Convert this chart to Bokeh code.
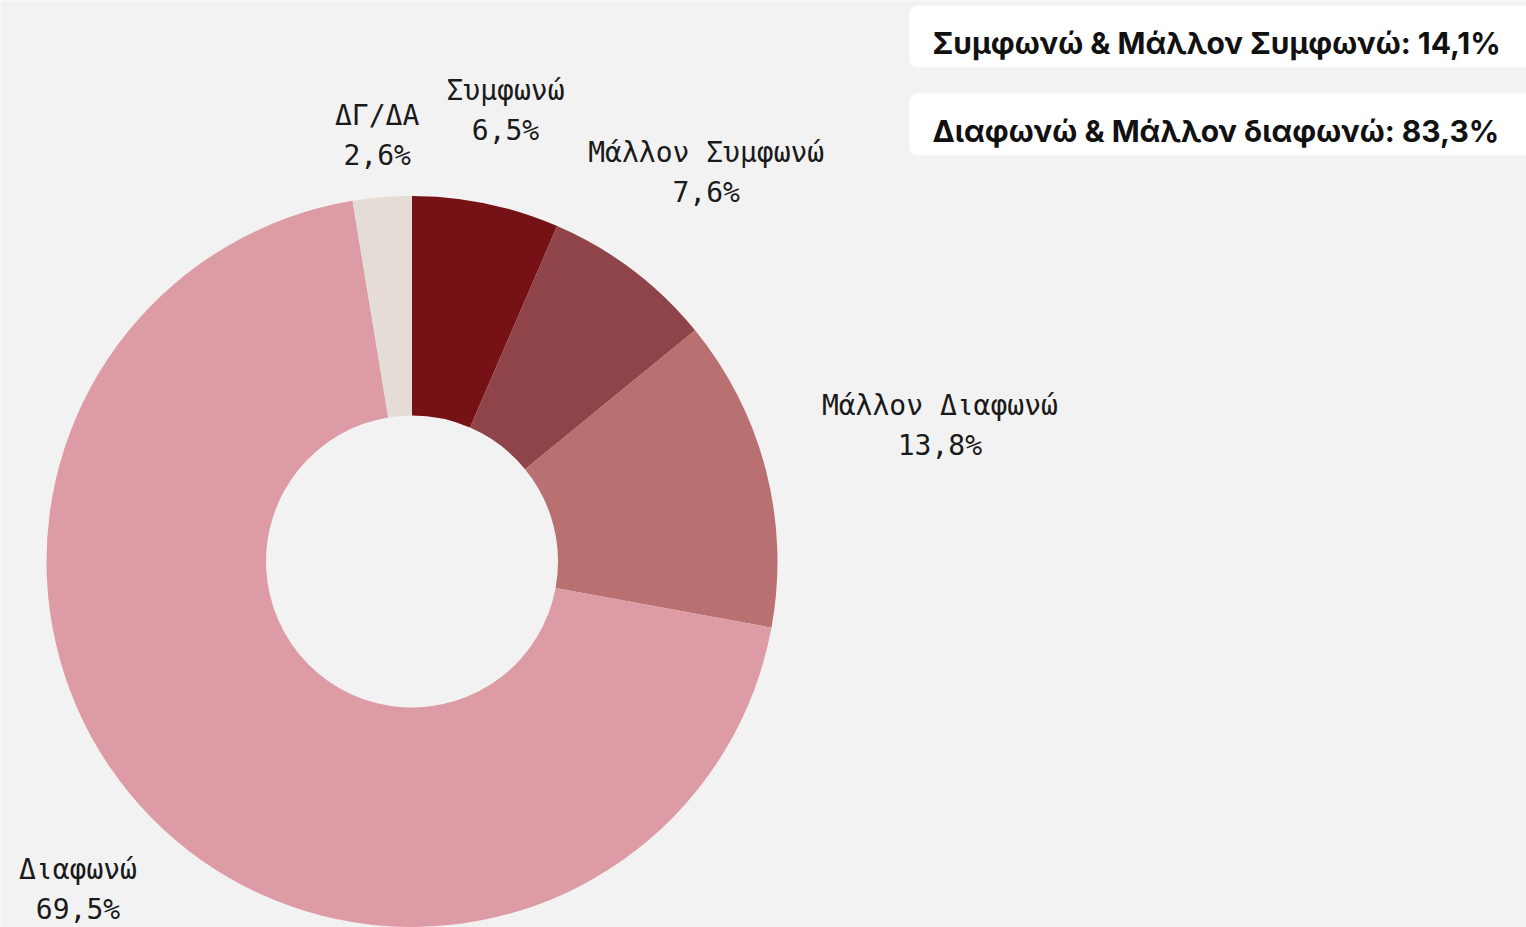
import math
from bokeh.plotting import figure
from bokeh.models import Range1d, BoxAnnotation, ColumnDataSource
from bokeh.core.properties import value
from bokeh.embed import file_html
from bokeh.resources import INLINE

# ---- data ----
categories = ["Συμφωνώ", "Μάλλον Συμφωνώ", "Μάλλον Διαφωνώ", "Διαφωνώ", "ΔΓ/ΔΑ"]
shares = [6.5, 7.6, 13.8, 69.5, 2.6]
colors = ["#761116", "#8e4448", "#b97070", "#dd9ba5", "#e5ddd5"]
summary_labels = ["Συμφωνώ & Μάλλον Συμφωνώ", "Διαφωνώ & Μάλλον διαφωνώ"]

# ---- style / layout ----
W, H = 1526, 927
PAGE_H = 927
label_dist = [461, 488, 545, 468, 427]  # radial distance of each label from centre (px)
CX, CY_PAGE = 411.5, 561
R_OUT, R_IN = 365.5, 146
LINE_GAP = 20
BG = "#f2f2f2"


def fmt(v):
    return f"{v:.1f}".replace(".", ",") + "%"


def py(y_page):
    return PAGE_H - y_page


p = figure(width=W, height=H, output_backend="svg", toolbar_location=None,
           x_range=Range1d(0, W), y_range=Range1d(0, H),
           min_border=0, background_fill_color=BG, border_fill_color=BG)
p.axis.visible = False
p.grid.visible = False
p.outline_line_color = None

total = sum(shares)
starts, ends, mids = [], [], []
cum = 0.0
for s in shares:
    f0 = cum / total
    cum += s
    f1 = cum / total
    starts.append(math.pi / 2 - 2 * math.pi * f0)
    ends.append(math.pi / 2 - 2 * math.pi * f1)
    mids.append(2 * math.pi * (f0 + f1) / 2)  # clockwise from top

src = ColumnDataSource(dict(start=starts, end=ends, color=colors, cat=categories))
p.annular_wedge(x=CX, y=py(CY_PAGE), inner_radius=R_IN, outer_radius=R_OUT,
                start_angle="start", end_angle="end", direction="clock",
                fill_color="color", line_color=None, source=src)

# labels
lx, ly1, ly2, names, pcts = [], [], [], [], []
for cat, s, m, d in zip(categories, shares, mids, label_dist):
    x = CX + d * math.sin(m)
    yp = CY_PAGE - d * math.cos(m)
    lx.append(x)
    ly1.append(py(yp - LINE_GAP))
    ly2.append(py(yp + LINE_GAP))
    names.append(cat)
    pcts.append(fmt(s))

p.text(x=lx, y=ly1, text=names, text_font=value("DejaVu Sans Mono"),
       text_font_size="28px", text_align="center", text_baseline="middle",
       text_color="#1a1a1a")
p.text(x=lx, y=ly2, text=pcts, text_font=value("DejaVu Sans Mono"),
       text_font_size="28px", text_align="center", text_baseline="middle",
       text_color="#1a1a1a")

# summary boxes
agree = shares[0] + shares[1]
disagree = shares[2] + shares[3]
summary_texts = [f"{summary_labels[0]}: {fmt(agree)}", f"{summary_labels[1]}: {fmt(disagree)}"]
box_tops = [5, 93]
box_h = 62
for t, top in zip(summary_texts, box_tops):
    p.add_layout(BoxAnnotation(left=909, right=1560, top=py(top), bottom=py(top + box_h),
                               fill_color="white", fill_alpha=1.0, line_color=None,
                               border_radius=8, level="underlay"))
p.text(x=[932, 932], y=[py(t + 37) for t in box_tops], text=summary_texts,
       text_font=value("Inter"), text_font_style="bold", text_font_size="30px",
       text_align="left", text_baseline="alphabetic", text_color="#111111")

open("out.html", "w").write(file_html(p, INLINE))
